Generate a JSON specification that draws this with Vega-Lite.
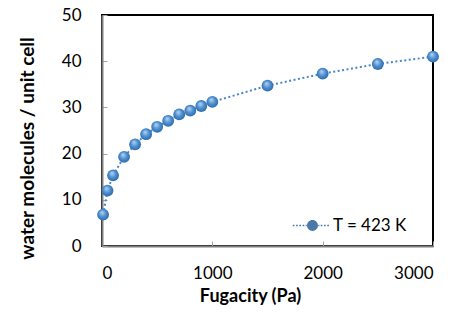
{
  "$schema": "https://vega.github.io/schema/vega-lite/v6.json",
  "width": 331,
  "height": 231,
  "autosize": {"type": "none"},
  "padding": {"left": 102, "top": 15, "right": 31, "bottom": 67},
  "background": "white",
  "config": {
    "font": "Lato",
    "view": {"stroke": "#000000", "strokeWidth": 2},
    "axis": {
      "domainColor": "#7f7f7f",
      "domainWidth": 2,
      "tickColor": "#a6a6a6",
      "tickSize": -5,
      "tickWidth": 1,
      "grid": false,
      "labelFont": "Lato",
      "labelFontSize": 17,
      "labelColor": "#000000",
      "titleFont": "Lato",
      "titleFontWeight": "bold",
      "titleColor": "#000000"
    }
  },
  "data": {
    "values": [
      {"f": 10, "n": 6.8, "series": "T = 423 K"},
      {"f": 50, "n": 12.0, "series": "T = 423 K"},
      {"f": 100, "n": 15.3, "series": "T = 423 K"},
      {"f": 200, "n": 19.3, "series": "T = 423 K"},
      {"f": 300, "n": 22.0, "series": "T = 423 K"},
      {"f": 400, "n": 24.2, "series": "T = 423 K"},
      {"f": 500, "n": 25.8, "series": "T = 423 K"},
      {"f": 600, "n": 27.1, "series": "T = 423 K"},
      {"f": 700, "n": 28.5, "series": "T = 423 K"},
      {"f": 800, "n": 29.3, "series": "T = 423 K"},
      {"f": 900, "n": 30.3, "series": "T = 423 K"},
      {"f": 1000, "n": 31.2, "series": "T = 423 K"},
      {"f": 1500, "n": 34.7, "series": "T = 423 K"},
      {"f": 2000, "n": 37.3, "series": "T = 423 K"},
      {"f": 2500, "n": 39.4, "series": "T = 423 K"},
      {"f": 3000, "n": 41.0, "series": "T = 423 K"}
    ]
  },
  "encoding": {
    "x": {
      "field": "f", "type": "quantitative",
      "scale": {"domain": [0, 3000], "nice": false},
      "axis": {"values": [0, 1000, 2000, 3000], "format": "d", "title": "Fugacity (Pa)", "titleFontSize": 18, "labelPadding": 24, "titlePadding": 6, "titleX": 148}
    },
    "y": {
      "field": "n", "type": "quantitative",
      "scale": {"domain": [0, 50], "nice": false},
      "axis": {"values": [0, 10, 20, 30, 40, 50], "format": "d", "title": "water molecules / unit cell", "titleFontSize": 19, "labelPadding": 26, "titlePadding": 24, "titleY": 133}
    }
  },
  "layer": [
    {
      "mark": {"type": "line", "color": "#4a86c8", "strokeWidth": 2, "strokeDash": [2, 2.5]}
    },
    {
      "mark": {
        "type": "point", "filled": true, "size": 140, "opacity": 1,
        "fill": {
          "gradient": "radial", "x1": 0.4, "y1": 0.3, "r1": 0, "x2": 0.5, "y2": 0.5, "r2": 0.6,
          "stops": [
            {"offset": 0, "color": "#b9d8f5"},
            {"offset": 0.5, "color": "#4f8fd0"},
            {"offset": 1, "color": "#23609e"}
          ]
        }
      }
    },
    {
      "mark": {"type": "point", "filled": true, "opacity": 0},
      "encoding": {
        "shape": {
          "field": "series", "type": "nominal",
          "scale": {"range": ["M1,0A1,1,0,1,1,-1,0A1,1,0,1,1,1,0Z M-3.6,-0.15h0.3v0.3h-0.3z M-3.0,-0.15h0.3v0.3h-0.3z M-2.4,-0.15h0.3v0.3h-0.3z M-1.8,-0.15h0.3v0.3h-0.3z M-1.25,-0.15h0.2v0.3h-0.2z M1.05,-0.15h0.2v0.3h-0.2z M1.5,-0.15h0.3v0.3h-0.3z M2.1,-0.15h0.3v0.3h-0.3z M2.7,-0.15h0.3v0.3h-0.3z"]},
          "legend": {
            "title": null,
            "orient": "none",
            "legendX": 202,
            "legendY": 202,
            "symbolSize": 120,
            "symbolFillColor": "#3f7fc2",
            "symbolStrokeColor": "#3f7fc2",
            "symbolStrokeWidth": 0,
            "symbolOpacity": 1,
            "labelFont": "Lato",
            "labelFontSize": 17,
            "labelColor": "#000000",
            "labelOffset": 12
          }
        }
      }
    }
  ]
}
